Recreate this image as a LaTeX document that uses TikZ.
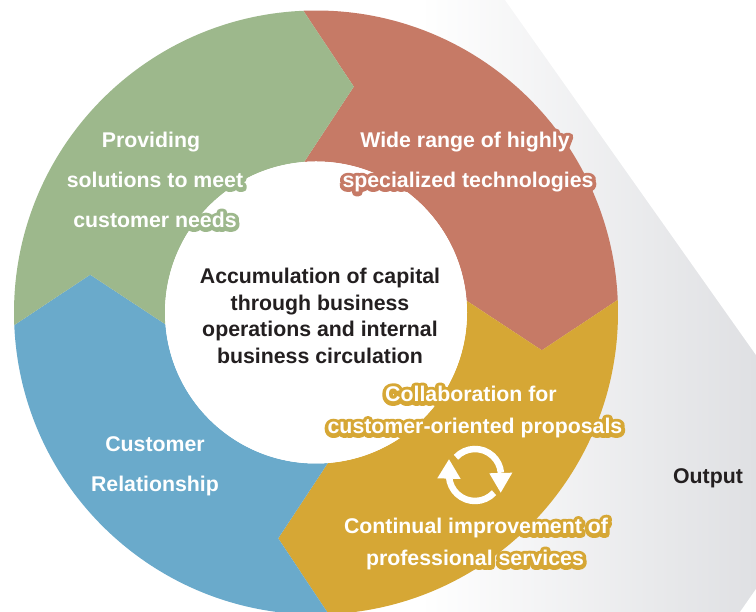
\documentclass[tikz,border=0pt]{standalone}
\usepackage{fontspec}
\usetikzlibrary{positioning}
\setmainfont{Liberation Sans}
\newfontface\halofont{Liberation Sans Bold}[FakeBold=36]
\newcommand{\halotext}[2]{\leavevmode\special{pdf:code 1 j}\rlap{\color{#1}\halofont #2}#2}
\definecolor{segred}{HTML}{C67A66}
\definecolor{segyellow}{HTML}{D6A735}
\definecolor{segblue}{HTML}{6AAACB}
\definecolor{seggreen}{HTML}{9DB88C}
\definecolor{bandmid}{HTML}{E8E9EB}
\definecolor{bandgray}{HTML}{DFE0E3}
\definecolor{inktext}{HTML}{231F20}
\tikzset{
    seglabel/.style={text=white, anchor=base, font=\fontsize{21.3}{25}\selectfont\bfseries, inner sep=0pt},
    hublabel/.style={text=inktext, anchor=base, font=\fontsize{21.3}{25}\selectfont\bfseries, inner sep=0pt},
    cyclearc/.style={white, line width=6.5pt},
    cycletip/.style={fill=white}
}

\begin{document}
\begin{tikzpicture}[x=1pt, y=1pt]
    \useasboundingbox (0,0) rectangle (756,612);
    % Output band behind the ring
    \shade [left color=white, middle color=bandmid, right color=bandgray] (420,0) rectangle (756,612);
    \fill [white] (505,612) -- (756,257) -- (756,612) -- cycle;
    \fill [white] (756,23) -- (740,0) -- (756,0) -- cycle;
    % Ring segments, each turned 90 degrees from the one before
    \coordinate (C) at (316,299.5);
    \foreach \turn/\segcol in {0/segred, -90/segyellow, -180/segblue, -270/seggreen}{
        \fill [\segcol, shift={(C)}] (92.4+\turn:302) arc [start angle=92.4+\turn, end angle=2.4+\turn, radius=302]
            -- (-9.5+\turn:229) -- (4.5+\turn:151) arc [start angle=4.5+\turn, end angle=94.5+\turn, radius=151]
            -- (80.5+\turn:229) -- cycle;
    }
    \node (hub) at (C) [circle, fill=white, minimum size=302pt, inner sep=0pt] {};
    % Segment labels
    \node (tech1) at (465,464) [seglabel] {\halotext{segred}{Wide range of highly}};
    \node (tech2) at (468,424) [seglabel] {\halotext{segred}{specialized technologies}};
    \node (sol1) at (151,464) [seglabel] {\halotext{seggreen}{Providing}};
    \node (sol2) at (155,424) [seglabel] {\halotext{seggreen}{solutions to meet}};
    \node (sol3) at (155,384) [seglabel] {\halotext{seggreen}{customer needs}};
    \node (cust1) at (155,160) [seglabel] {\halotext{segblue}{Customer}};
    \node (cust2) at (155,120) [seglabel] {\halotext{segblue}{Relationship}};
    \node (col1) at (471,210) [seglabel] {\halotext{segyellow}{Collaboration for}};
    \node (col2) at (475,178) [seglabel] {\halotext{segyellow}{customer-oriented proposals}};
    \node (imp1) at (476,78) [seglabel] {\halotext{segyellow}{Continual improvement of}};
    \node (imp2) at (475,46) [seglabel] {\halotext{segyellow}{professional services}};
    % Hub text
    \node (hub1) at (320,328) [hublabel] {Accumulation of capital};
    \node (hub2) at (320,301) [hublabel] {through business};
    \node (hub3) at (320,275) [hublabel] {operations and internal};
    \node (hub4) at (320,248) [hublabel] {business circulation};
    \node (output) at (708,128) [hublabel] {Output};
    % Cycle icon
    \coordinate (I) at (475,137);
    \draw [cyclearc, shift={(I)}] (137:26) arc [start angle=137, end angle=5, radius=26];
    \draw [cyclearc, shift={(I)}] (-43:26) arc [start angle=-43, end angle=-175, radius=26];
    \fill [cycletip] (489.3,138.7) -- (512.3,139.3) -- (500.7,119.3) -- cycle;
    \fill [cycletip] (437.3,133.7) -- (460.7,133) -- (449,152.7) -- cycle;
\end{tikzpicture}
\end{document}
